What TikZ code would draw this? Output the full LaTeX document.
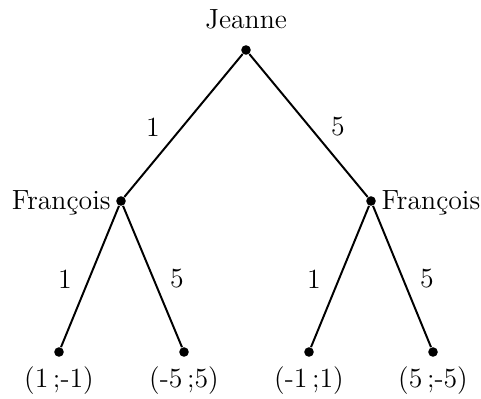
\documentclass[tikz,border=0pt]{standalone}
\begin{document}
\begin{tikzpicture}[x=0.407pt,y=-0.407pt,
  pt/.style={circle,fill=black,inner sep=0pt,minimum size=3.9pt},
  edge/.style={line width=0.8pt},
  lab/.style={inner sep=0pt,font=\fontsize{11.3}{13}\selectfont}]
\useasboundingbox (0,0) rectangle (481,398);
\node[pt] (r) at (246,50) {};
\node[pt] (a) at (121,201) {};
\node[pt] (b) at (371,201) {};
\node[pt] (l1) at (59,352) {};
\node[pt] (l2) at (184,352) {};
\node[pt] (l3) at (309,352) {};
\node[pt] (l4) at (433,352) {};
\draw[edge] (r) -- (a);
\draw[edge] (r) -- (b);
\draw[edge] (a) -- (l1);
\draw[edge] (a) -- (l2);
\draw[edge] (b) -- (l3);
\draw[edge] (b) -- (l4);
\node[lab] (tj) at (246,19) {Jeanne};
\node[lab,anchor=east] (ta) at (111,203) {François};
\node[lab,anchor=west] (tb) at (381,203) {François};
\node[lab] (e1) at (153,127) {1};
\node[lab] (e2) at (338,127) {5};
\node[lab] (e3) at (65,279) {1};
\node[lab] (e4) at (177,279) {5};
\node[lab] (e5) at (314,279) {1};
\node[lab] (e6) at (427,279) {5};
\node[lab] (t1) at (59,381) {(1\,;-1)};
\node[lab] (t2) at (184,381) {(-5\,;5)};
\node[lab] (t3) at (309,381) {(-1\,;1)};
\node[lab] (t4) at (433,381) {(5\,;-5)};
\end{tikzpicture}
\end{document}
